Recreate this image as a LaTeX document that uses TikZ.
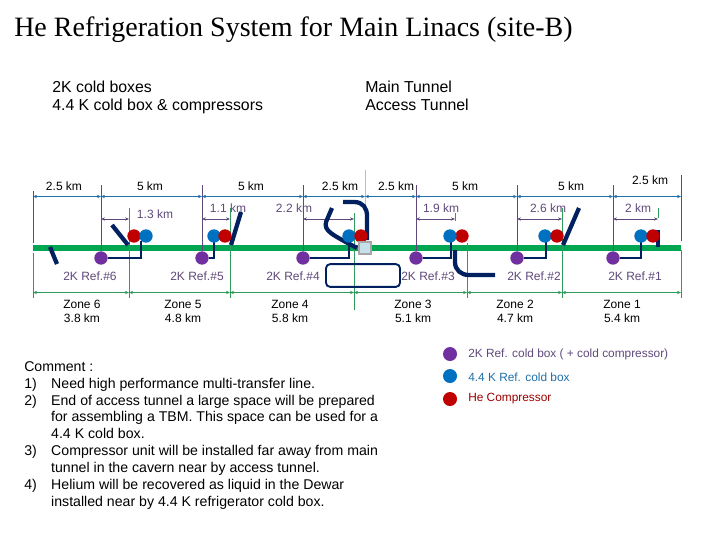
\documentclass[tikz,border=0pt]{standalone}
\usepackage{fontspec}
\setmainfont{Liberation Sans}
\newfontfamily\titlefont{Liberation Serif}
\usetikzlibrary{arrows.meta}
\definecolor{mypurple}{HTML}{7030A0}
\definecolor{mydim}{HTML}{5F497A}
\definecolor{myblue}{HTML}{0070C0}
\definecolor{myline}{HTML}{1F6FA8}
\definecolor{myred}{HTML}{C00000}
\definecolor{mygreen}{HTML}{00A651}
\definecolor{mythin}{HTML}{2E9B5A}
\definecolor{mynavy}{HTML}{002060}
\definecolor{myshaft}{HTML}{C6E0EA}
\newcommand{\itemno}[1]{\makebox[20.2pt][l]{#1}}
\tikzset{
    dot/.style={circle,inner sep=0pt,minimum size=10pt},
    pipe/.style={line width=3.2pt,color=mynavy},
    link/.style={line width=1.4pt,color=mynavy},
    lentext/.style={font=\fontsize{9}{10}\selectfont,inner sep=0pt},
    headtext/.style={anchor=base west,inner sep=0pt,font=\fontsize{11.9}{12}\selectfont},
    keytext/.style={anchor=west,inner sep=0pt,font=\fontsize{8.9}{10}\selectfont},
    span/.style={{Stealth[length=3pt,width=2.5pt]}-{Stealth[length=3pt,width=2.5pt]}},
}
\begin{document}
\begin{tikzpicture}[x=0.75pt,y=-0.75pt]
        \useasboundingbox (0,0) rectangle (720,540);

        \node[anchor=base west,inner sep=0pt,font=\titlefont\fontsize{21}{22}\selectfont] (title) at (14,36) {He Refrigeration System for Main Linacs (site-B)};
        \node[headtext] (head1) at (52,92) {2K cold boxes};
        \node[headtext] (head2) at (52,110) {4.4 K cold box \& compressors};
        \node[headtext] (head3) at (365,92) {Main Tunnel};
        \node[headtext] (head4) at (365,110) {Access Tunnel};

        \coordinate (W) at (33,248);
        \coordinate (E) at (681,248);
        \draw[line width=4.4pt,color=mygreen] (W) -- (E);

        \foreach \name/\xp/\xe in {6/101/129,5/202/230,4/303/354,3/416/455,2/517/562,1/613/658} {
            \coordinate (top\name) at (\xp,185);
            \coordinate (upper\name) at (\xp,196.5);
            \coordinate (inner\name) at (\xp,219);
            \coordinate (end\name) at (\xe,219);
            \node[dot,fill=mypurple] (ref\name) at (\xp,258) {};
            \draw[color=mydim,line width=0.7pt] (top\name) -- (ref\name);
            \draw[span,color=mydim,line width=0.7pt] (inner\name) -- (end\name);
        }

        \coordinate (L1) at (33,191);
        \coordinate (L2) at (33,243);
        \coordinate (M1) at (365,170);
        \coordinate (M2) at (365,240);
        \coordinate (R1) at (681,175);
        \coordinate (R2) at (681,241);
        \draw[color=mydim,line width=0.7pt] (L1) -- (L2);
        \draw[color=mydim,line width=0.7pt] (R1) -- (R2);
        \draw[color=myline!40,line width=0.7pt] (M1) -- (M2);

        \coordinate (upperW) at (33,196.5);
        \coordinate (upperM) at (365,196.5);
        \coordinate (upperE) at (681,196.5);
        \foreach \from/\to in {upperW/upper6,upper6/upper5,upper5/upper4,upper4/upperM,upperM/upper3,upper3/upper2,upper2/upper1,upper1/upperE} {
            \draw[span,color=myline,line width=1.2pt] (\from) -- (\to);
        }

        \foreach \x/\ya/\yb [count=\i] in {33/253/298,129/208/298,230/208/298,354/213/310,467/243/298,562/208/298,681/250/298} {
            \coordinate (gt\i) at (\x,\ya);
            \coordinate (gb\i) at (\x,\yb);
            \coordinate (gz\i) at (\x,292.5);
            \draw[color=mythin,line width=0.7pt] (gt\i) -- (gb\i);
        }
        \foreach \from/\to in {1/2,2/3,3/4,4/5,5/6,6/7} {
            \draw[span,color=mythin,line width=0.7pt] (gz\from) -- (gz\to);
        }
        \coordinate (g1) at (658,208);
        \coordinate (g2) at (658,218);
        \coordinate (g3) at (455,213);
        \coordinate (g4) at (455,221);
        \draw[color=mythin,line width=0.7pt] (g1) -- (g2);
        \draw[color=mythin,line width=0.7pt] (g3) -- (g4);

        \coordinate (a1) at (50,247);
        \coordinate (a2) at (57,264);
        \coordinate (b1) at (112,225);
        \coordinate (b2) at (128,245);
        \coordinate (c1) at (241,212);
        \coordinate (c2) at (231,245);
        \coordinate (d1) at (579,208);
        \coordinate (d2) at (563,245);
        \draw[pipe] (a1) -- (a2);
        \draw[pipe] (b1) -- (b2);
        \draw[pipe] (c1) -- (c2);
        \draw[pipe] (d1) -- (d2);
        \draw[pipe] (332,208) -- (326,222) .. controls (324,231) and (331,234) .. (357,248);
        \draw[pipe] (343,202) -- (354,202) .. controls (363,202) and (367,208) .. (367,216) -- (367,240);
        \draw[pipe] (455,250) -- (455,262) .. controls (455,270) and (461,275) .. (469,275) -- (495,275);
        \draw[pipe] (653,232) -- (658,232) -- (658,247);

        \foreach \name/\xr in {6/134,3/462} {
            \node[dot,fill=myred] (comp\name) at (\xr,236) {};
        }
        \foreach \name/\xb/\xt in {6/146/141,5/214/214,4/349/349,3/450/451,2/545/546,1/641/641} {
            \coordinate (tap\name) at (\xt,241);
            \draw[link] (ref\name) -| (tap\name);
            \node[dot,fill=myblue] (box\name) at (\xb,236) {};
        }
        \foreach \name/\xr in {5/225,4/361,2/557,1/653} {
            \node[dot,fill=myred] (comp\name) at (\xr,236) {};
        }

        \node[draw=mynavy,line width=1.4pt,rounded corners=3pt,minimum width=55.5pt,minimum height=17pt,inner sep=0pt] (hall) at (363,275.5) {};
        \node[draw=gray!70,fill=myshaft,line width=1.2pt,minimum size=8.8pt,inner sep=0pt] (shaft) at (365,248) {};

        \foreach \x/\y/\txt [count=\i] in {64/186/2.5 km,150/186/5 km,251/186/5 km,340/186/2.5 km,396/186/2.5 km,465/186/5 km,571/186/5 km,650/180/2.5 km} {
            \node[lentext] (len\i) at (\x,\y) {\txt};
        }
        \foreach \x/\y/\txt [count=\i] in {155/214/1.3 km,228/208/1.1 km,294/208/2.2 km,441/208/1.9 km,548/208/2.6 km,638/208/2 km} {
            \node[lentext,text=mydim] (off\i) at (\x,\y) {\txt};
        }
        \foreach \x/\n in {90/6,197/5,293/4,428/3,534/2,635/1} {
            \node[lentext,text=mydim] (name\n) at (\x,276) {2K Ref.\#\n};
        }
        \foreach \x/\n/\txt in {82/6/3.8,183/5/4.8,290/4/5.8,413/3/5.1,515/2/4.7,622/1/5.4} {
            \node[lentext] (zone\n) at (\x,304) {Zone \n};
            \node[lentext] (size\n) at (\x,318) {\txt{} km};
        }

        \node[anchor=north west,align=left,inner sep=0pt,font=\fontsize{10.6}{12.7}\selectfont] (note) at (24,361) {Comment :\\
            \itemno{1)}Need high performance multi-transfer line.\\
            \itemno{2)}End of access tunnel a large space will be prepared\\
            \itemno{}for assembling a TBM. This space can be used for a\\
            \itemno{}4.4 K cold box.\\
            \itemno{3)}Compressor unit will be installed far away from main\\
            \itemno{}tunnel in the cavern near by access tunnel.\\
            \itemno{4)}Helium will be recovered as liquid in the Dewar\\
            \itemno{}installed near by 4.4 K refrigerator cold box.};

        \node[dot,fill=mypurple,minimum size=10.5pt] (key1) at (450,354) {};
        \node[dot,fill=myblue,minimum size=10.5pt] (key2) at (450,376) {};
        \node[dot,fill=myred,minimum size=10.5pt] (key3) at (450,399) {};
        \node[keytext,text=mydim] (text1) at (468,354) {2K Ref. cold box ( + cold compressor)};
        \node[keytext,text=myline] (text2) at (468,377) {4.4 K Ref. cold box};
        \node[keytext,text=myred!80!black] (text3) at (468,399) {He Compressor};
    \end{tikzpicture}
\end{document}
